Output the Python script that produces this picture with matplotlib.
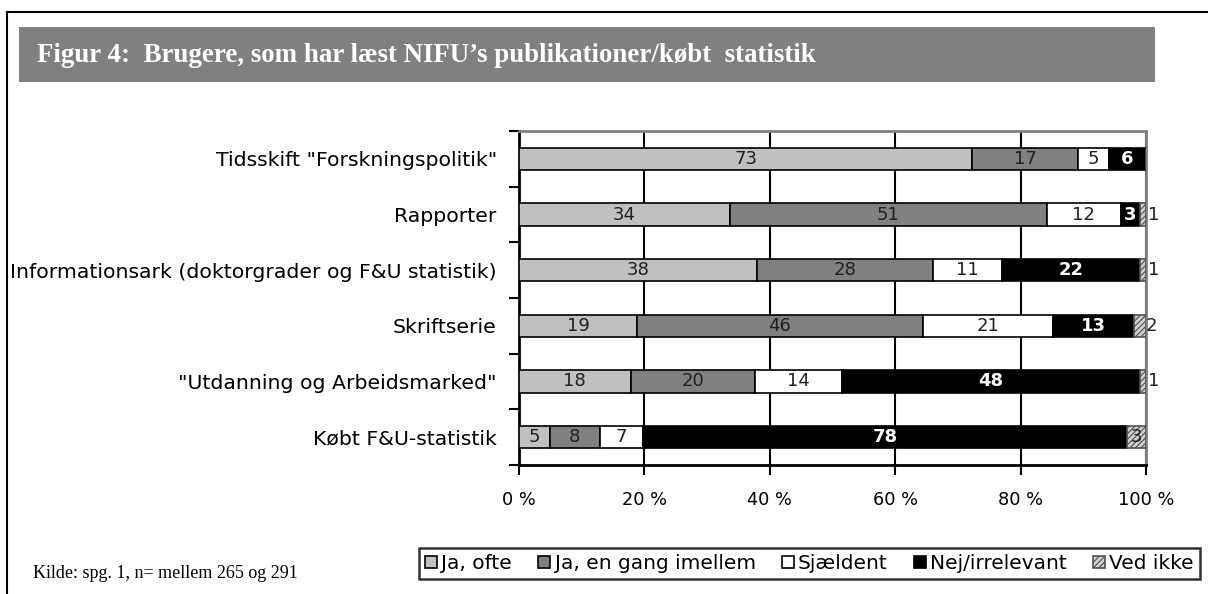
import matplotlib
matplotlib.use("Agg")
import matplotlib.pyplot as plt
import numpy as np
from matplotlib.patches import Rectangle
from matplotlib.lines import Line2D

categories = ['Tidsskift "Forskningspolitik"', 'Rapporter',
              'Informationsark (doktorgrader og F&U statistik)', 'Skriftserie',
              '"Utdanning og Arbeidsmarked"', 'Købt F&U-statistik']
series_names = ['Ja, ofte', 'Ja, en gang imellem', 'Sjældent', 'Nej/irrelevant', 'Ved ikke']
ja_ofte = [73, 34, 38, 19, 18, 5]
ja_gang = [17, 51, 28, 46, 20, 8]
sjaeldent = [5, 12, 11, 21, 14, 7]
nej = [6, 3, 22, 13, 48, 78]
ved_ikke = [0, 1, 1, 2, 1, 3]
x_ticks = [0, 20, 40, 60, 80, 100]
x_ticklabels = ['0 %', '20 %', '40 %', '60 %', '80 %', '100 %']

colors = ['#C0C0C0', '#808080', '#FFFFFF', '#000000', '#D0D0D0']
label_colors = ['#202020', '#202020', '#202020', '#FFFFFF', '#202020']
label_weights = ['normal', 'normal', 'normal', 'bold', 'normal']
hatches = [None, None, None, None, '//////']

plt.rcParams['font.family'] = ['DejaVu Sans']
plt.rcParams['hatch.linewidth'] = 0.8

W, H = 1208, 594
fig = plt.figure(figsize=(W / 100, H / 100), dpi=100)

# outer frame lines
fig.add_artist(Line2D([7 / W, 7 / W], [0, 1 - 12 / H], color='black', lw=1.5, transform=fig.transFigure))
fig.add_artist(Line2D([7 / W, 1], [1 - 12 / H, 1 - 12 / H], color='black', lw=1.5, transform=fig.transFigure))

# title banner
fig.add_artist(Rectangle((19 / W, 1 - 82 / H), (1155 - 19) / W, (82 - 27) / H,
                         facecolor='#808080', edgecolor='none', transform=fig.transFigure))
fig.text(37 / W, 1 - 55 / H, 'Figur 4:  Brugere, som har læst NIFU’s publikationer/købt  statistik',
         family='Liberation Serif', weight='bold', fontsize=19.4, color='white', va='center', ha='left')

ax = fig.add_axes([519 / W, 1 - 465 / H, (1146 - 519) / W, (465 - 131) / H])

data = np.array([ja_ofte, ja_gang, sjaeldent, nej, ved_ikke], dtype=float)
totals = data.sum(axis=0)
pct = data / totals * 100
n = len(categories)
ypos = np.arange(n)

left = np.zeros(n)
for i, name in enumerate(series_names):
    ec = '#505050' if hatches[i] else 'black'
    ax.barh(ypos, pct[i], left=left, height=0.4, color=colors[i], edgecolor=ec,
            linewidth=1.2, hatch=hatches[i], label=name, zorder=3)
    for j in range(n):
        v = data[i, j]
        if v <= 0:
            continue
        c = left[j] + pct[i, j] / 2
        if v <= 2 and i == 4:
            ax.text(left[j] + pct[i, j] - 0.3 * (v - 1) + 0.3, ypos[j], f'{int(v)}', ha='left', va='center',
                    fontsize=13, color='#202020', zorder=4)
        else:
            ax.text(c, ypos[j], f'{int(v)}', ha='center', va='center', fontsize=13,
                    color=label_colors[i], weight=label_weights[i], zorder=4)
    left += pct[i]

ax.set_xlim(0, 100)
ax.set_ylim(n - 0.5, -0.5)
ax.set_xticks(x_ticks)
ax.set_xticklabels(x_ticklabels, fontsize=12.8)
ax.set_yticks(ypos)
ax.set_yticklabels(categories, fontsize=14.7)
ax.tick_params(axis='y', length=0, pad=16)
ax.set_yticks(np.arange(-0.5, n, 1), minor=True)
ax.tick_params(axis='y', which='minor', length=7, width=1.5, direction='out')
ax.tick_params(axis='x', length=7, width=1.5, direction='out', pad=12)
ax.xaxis.grid(True, color='black', linewidth=1.5, zorder=0)
ax.set_axisbelow(True)
for s in ['left', 'bottom']:
    ax.spines[s].set_color('black')
    ax.spines[s].set_linewidth(2)
for s in ['top', 'right']:
    ax.spines[s].set_color('#808080')
    ax.spines[s].set_linewidth(2)

leg = fig.legend(loc='center', bbox_to_anchor=((419 + 1200) / 2 / W, 1 - 563.5 / H), ncol=5,
                 fontsize=14.5, frameon=True, fancybox=False, handlelength=0.6, handleheight=0.6,
                 handletextpad=0.2, columnspacing=1.3, borderpad=0.32, borderaxespad=0,
                 edgecolor='black')
leg.get_frame().set_linewidth(1.8)

fig.text(33 / W, 1 - 573 / H, 'Kilde: spg. 1, n= mellem 265 og 291', family='Liberation Serif',
         fontsize=13, ha='left', va='center')

fig.savefig('out.png', dpi=100)
